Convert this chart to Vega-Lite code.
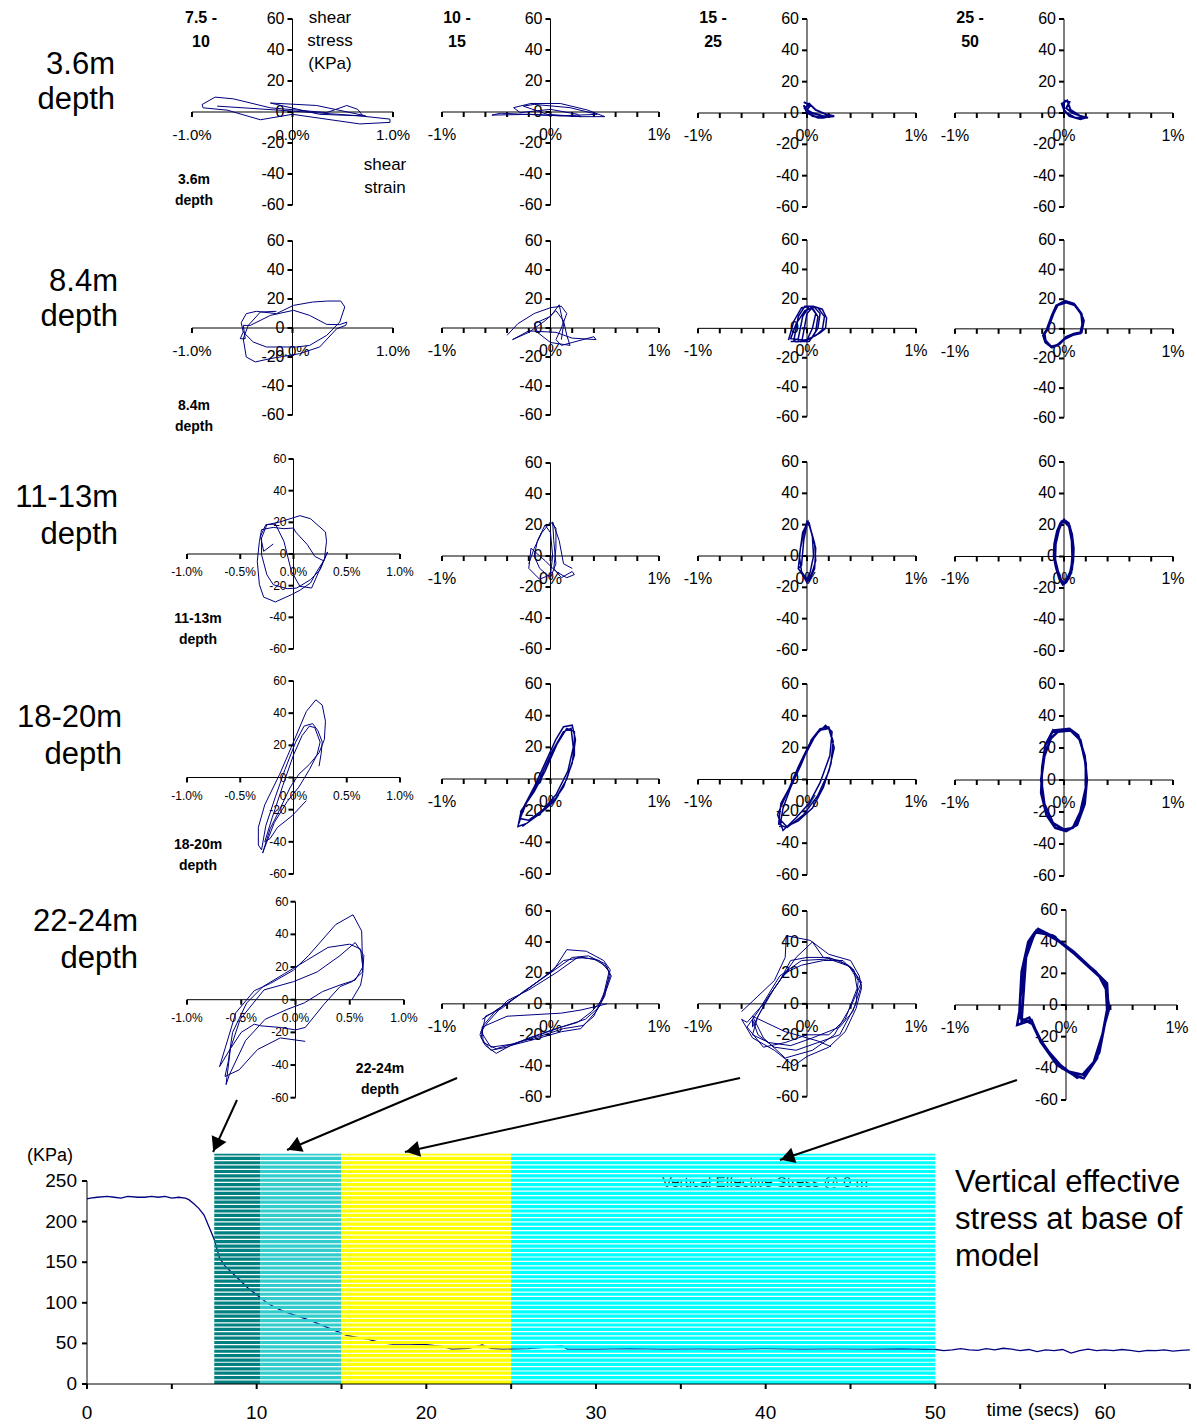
{
"$schema":"https://vega.github.io/schema/vega-lite/v6.json",
"width":1197,"height":1425,"autosize":{"type":"none"},"padding":0,"background":"white",
"config":{"view":{"stroke":null}},
"resolve":{"scale":{"x":"independent","y":"independent"}},
"datasets":{
"axX":[{"x":-1,"x2":1,"y":0}],
"axY":[{"x":0,"y":-60,"y2":60}],
"ytk":[{"x":0,"y":-60,"l":"-60"},{"x":0,"y":-40,"l":"-40"},{"x":0,"y":-20,"l":"-20"},{"x":0,"y":0,"l":"0"},{"x":0,"y":20,"l":"20"},{"x":0,"y":40,"l":"40"},{"x":0,"y":60,"l":"60"}],
"xtA":[{"x":-1,"y":0},{"x":-0.8,"y":0},{"x":-0.6,"y":0},{"x":-0.4,"y":0},{"x":-0.2,"y":0},{"x":0,"y":0},{"x":0.2,"y":0},{"x":0.4,"y":0},{"x":0.6,"y":0},{"x":0.8,"y":0},{"x":1,"y":0}],
"xtB":[{"x":-1,"y":0},{"x":0,"y":0},{"x":1,"y":0}],
"xtC":[{"x":-1,"y":0},{"x":-0.5,"y":0},{"x":0,"y":0},{"x":0.5,"y":0},{"x":1,"y":0}],
"xlA":[{"x":-1,"y":0,"l":"-1%"},{"x":0,"y":0,"l":"0%"},{"x":1,"y":0,"l":"1%"}],
"xlB":[{"x":-1,"y":0,"l":"-1.0%"},{"x":0,"y":0,"l":"0.0%"},{"x":1,"y":0,"l":"1.0%"}],
"xlC":[{"x":-1,"y":0,"l":"-1.0%"},{"x":-0.5,"y":0,"l":"-0.5%"},{"x":0,"y":0,"l":"0.0%"},{"x":0.5,"y":0,"l":"0.5%"},{"x":1,"y":0,"l":"1.0%"}],
"L11":[{"x":-0.75,"y":3.8},{"x":0,"y":0.6},{"x":0.67,"y":-2.5},{"x":0.97,"y":-4.6},{"x":0.97,"y":-6.7},{"x":0.67,"y":-7.7},{"x":0,"y":-1.5},{"x":-0.32,"y":-5},{"x":-0.65,"y":1.2},{"x":-0.89,"y":2.7},{"x":-0.9,"y":4.8},{"x":-0.77,"y":9.6},{"x":-0.59,"y":8.5},{"x":-0.22,"y":2.7},{"x":0.34,"y":-0.4},{"x":0.54,"y":4.2},{"x":0.65,"y":1.7},{"x":0.7,"y":-2.5},{"x":0.27,"y":-1.5},{"x":-0.22,"y":5.8},{"x":0.24,"y":4.2},{"x":0.73,"y":-2.5}],
"L12":[{"x":-0.54,"y":-2},{"x":-0.18,"y":-1.5},{"x":0.28,"y":-3},{"x":0.5,"y":-3},{"x":0.34,"y":1.3},{"x":0.09,"y":5.5},{"x":-0.18,"y":5.5},{"x":-0.34,"y":2.8},{"x":-0.28,"y":-0.4},{"x":0,"y":1.7},{"x":0.25,"y":-1.5},{"x":0.28,"y":-3},{"x":-0.03,"y":-1.5},{"x":-0.25,"y":3.8},{"x":-0.15,"y":4.9},{"x":0.18,"y":2.8},{"x":0.43,"y":-1.5},{"x":0.09,"y":-2.5},{"x":-0.46,"y":-0.8},{"x":-0.54,"y":-2}],
"L13":[{"x":-0.03,"y":7},{"x":0.03,"y":5},{"x":0,"y":2},{"x":0.05,"y":0},{"x":0.15,"y":-2},{"x":0.22,"y":-2},{"x":0.15,"y":-3},{"x":0.05,"y":-2},{"x":-0.02,"y":3},{"x":0.02,"y":6},{"x":0.08,"y":2},{"x":0.18,"y":-1},{"x":0.25,"y":-2},{"x":0.1,"y":-3},{"x":0,"y":0},{"x":-0.03,"y":5}],
"L14":[{"x":0,"y":8},{"x":0.05,"y":7},{"x":0.02,"y":3},{"x":0.08,"y":0},{"x":0.2,"y":-3},{"x":0.15,"y":-4},{"x":0.05,"y":-2},{"x":0,"y":2},{"x":-0.02,"y":6},{"x":0.03,"y":8},{"x":0.06,"y":2},{"x":0.15,"y":-2},{"x":0.22,"y":-3},{"x":0.1,"y":-3},{"x":0,"y":1},{"x":0,"y":7}],
"L21":[{"x":-0.49,"y":-2.8},{"x":-0.51,"y":3.7},{"x":-0.46,"y":9.9},{"x":-0.36,"y":11.5},{"x":-0.16,"y":9.9},{"x":0.01,"y":15.6},{"x":0.2,"y":17.9},{"x":0.35,"y":18.6},{"x":0.48,"y":18.6},{"x":0.52,"y":14.5},{"x":0.47,"y":4.1},{"x":0.34,"y":-5.1},{"x":0.17,"y":-12},{"x":0.04,"y":-13.1},{"x":-0.26,"y":-13.1},{"x":-0.39,"y":-9.7},{"x":-0.49,"y":-2.8},{"x":-0.52,"y":-7.4},{"x":-0.47,"y":-7.4},{"x":-0.49,"y":1.8},{"x":-0.42,"y":1.8},{"x":-0.22,"y":8.7},{"x":0.01,"y":12.2},{"x":0.17,"y":8.7},{"x":0.34,"y":2.5},{"x":0.47,"y":2.3},{"x":0.54,"y":4.1},{"x":0.53,"y":1.8},{"x":0.44,"y":-0.5},{"x":0.27,"y":-13.1},{"x":0.07,"y":-17.7},{"x":-0.22,"y":-21.1},{"x":-0.37,"y":-23.4},{"x":-0.46,"y":-20},{"x":-0.49,"y":-7.4},{"x":-0.44,"y":1.8},{"x":-0.32,"y":11},{"x":-0.16,"y":11.5}],
"L22":[{"x":-0.4,"y":-5},{"x":-0.3,"y":3},{"x":-0.15,"y":10},{"x":0,"y":14},{"x":0.1,"y":15},{"x":0.15,"y":10},{"x":0.1,"y":0},{"x":0.05,"y":-8},{"x":0.1,"y":-12},{"x":0.2,"y":-10},{"x":0.4,"y":-6},{"x":0.42,"y":-8},{"x":0.2,"y":-7},{"x":0.05,"y":-3},{"x":-0.2,"y":-2},{"x":-0.35,"y":-8},{"x":-0.2,"y":-3},{"x":-0.05,"y":5},{"x":0.05,"y":12},{"x":0.12,"y":5},{"x":0.15,"y":-5},{"x":0.18,"y":-12},{"x":0,"y":-10},{"x":-0.12,"y":-3},{"x":-0.15,"y":3},{"x":0,"y":8},{"x":0.08,"y":16},{"x":0.12,"y":2},{"x":0.1,"y":-8}],
"L23":[{"x":-0.17,"y":-8},{"x":-0.12,"y":5},{"x":-0.05,"y":14},{"x":0.03,"y":15},{"x":0.08,"y":10},{"x":0.05,"y":0},{"x":0,"y":-8},{"x":-0.1,"y":-9},{"x":-0.12,"y":-8},{"x":-0.08,"y":8},{"x":-0.02,"y":15},{"x":0.06,"y":15},{"x":0.12,"y":10},{"x":0.1,"y":0},{"x":0.04,"y":-7},{"x":-0.08,"y":-9},{"x":-0.08,"y":-7},{"x":-0.04,"y":8},{"x":0.02,"y":15},{"x":0.1,"y":14},{"x":0.16,"y":8},{"x":0.14,"y":-1},{"x":0.08,"y":-5},{"x":-0.05,"y":-9},{"x":-0.04,"y":-6},{"x":0,"y":10},{"x":0.06,"y":15},{"x":0.14,"y":13},{"x":0.18,"y":7},{"x":0.17,"y":0},{"x":0.12,"y":-3},{"x":0,"y":-8},{"x":-0.15,"y":-7},{"x":-0.1,"y":3},{"x":-0.02,"y":12},{"x":0.05,"y":14},{"x":0.1,"y":8},{"x":0.08,"y":-2},{"x":0.02,"y":-9},{"x":-0.15,"y":-9}],
"L24":[{"x":-0.16,"y":-1.1},{"x":-0.11,"y":9},{"x":-0.07,"y":15.7},{"x":0.01,"y":18.7},{"x":0.09,"y":16.9},{"x":0.15,"y":11.2},{"x":0.18,"y":5.6},{"x":0.16,"y":-2.2},{"x":0.09,"y":-3.4},{"x":0.02,"y":-5.6},{"x":-0.04,"y":-10.1},{"x":-0.11,"y":-12.4},{"x":-0.17,"y":-9},{"x":-0.19,"y":-4.5},{"x":-0.15,"y":0},{"x":-0.1,"y":10},{"x":-0.06,"y":16},{"x":0.02,"y":18},{"x":0.1,"y":16},{"x":0.16,"y":10},{"x":0.17,"y":3},{"x":0.15,"y":-3},{"x":0.08,"y":-4},{"x":0,"y":-7},{"x":-0.06,"y":-11},{"x":-0.12,"y":-12},{"x":-0.17,"y":-8},{"x":-0.18,"y":-3},{"x":-0.15,"y":0}],
"L31":[{"x":-0.19,"y":6.3},{"x":-0.28,"y":1.7},{"x":-0.31,"y":11.2},{"x":-0.26,"y":18.5},{"x":-0.17,"y":18.9},{"x":-0.09,"y":8},{"x":-0.02,"y":-10.9},{"x":0.06,"y":-20.4},{"x":0.17,"y":-21.5},{"x":0.28,"y":-4.6},{"x":0.32,"y":1.3},{"x":0.25,"y":-9.9},{"x":0.16,"y":-16.2},{"x":0.03,"y":-21.5},{"x":-0.06,"y":-21.9},{"x":-0.19,"y":-19.4},{"x":-0.25,"y":-13.1},{"x":-0.3,"y":-0.4},{"x":-0.3,"y":10.1},{"x":-0.25,"y":18.5},{"x":-0.13,"y":20.2},{"x":0.06,"y":24.2},{"x":0.16,"y":22.3},{"x":0.3,"y":13.9},{"x":0.31,"y":8},{"x":0.29,"y":-3.6},{"x":0.22,"y":-10.9},{"x":0.16,"y":-18.3},{"x":0.06,"y":-22.9},{"x":-0.02,"y":-25.7},{"x":-0.17,"y":-30.3},{"x":-0.28,"y":-27.2},{"x":-0.32,"y":-19.4},{"x":-0.34,"y":-4.6},{"x":-0.32,"y":8},{"x":-0.3,"y":15.4},{"x":-0.19,"y":16.8},{"x":-0.09,"y":16},{"x":0,"y":16.4},{"x":0.02,"y":13.9},{"x":0.13,"y":5.9},{"x":0.2,"y":-1.5},{"x":0.28,"y":-4.2}],
"L32":[{"x":-0.2,"y":-5},{"x":-0.15,"y":5},{"x":-0.08,"y":15},{"x":0,"y":22},{"x":0.05,"y":18},{"x":0.05,"y":5},{"x":0.03,"y":-8},{"x":0.1,"y":-14},{"x":0.2,"y":-10},{"x":0.22,"y":-12},{"x":0.15,"y":-14},{"x":0.05,"y":-10},{"x":-0.05,"y":-3},{"x":-0.18,"y":5},{"x":-0.2,"y":-8},{"x":-0.1,"y":-15},{"x":0,"y":-12},{"x":0.02,"y":0},{"x":0,"y":15},{"x":-0.05,"y":20},{"x":-0.12,"y":10},{"x":-0.15,"y":0},{"x":-0.1,"y":-8},{"x":0,"y":-14},{"x":0.05,"y":-5},{"x":0.03,"y":10},{"x":0.02,"y":22},{"x":0.08,"y":10},{"x":0.12,"y":-5},{"x":0.2,"y":-8}],
"L33":[{"x":-0.08,"y":-8},{"x":-0.06,"y":5},{"x":-0.03,"y":15},{"x":0,"y":22},{"x":0.03,"y":18},{"x":0.07,"y":8},{"x":0.08,"y":-3},{"x":0.05,"y":-10},{"x":0,"y":-17},{"x":-0.04,"y":-12},{"x":-0.08,"y":-8},{"x":-0.05,"y":-6},{"x":-0.03,"y":10},{"x":0,"y":20},{"x":0.02,"y":21},{"x":0.05,"y":12},{"x":0.06,"y":0},{"x":0.03,"y":-10},{"x":0,"y":-15},{"x":-0.05,"y":-10},{"x":-0.07,"y":0},{"x":-0.04,"y":15},{"x":0.01,"y":22},{"x":0.04,"y":15},{"x":0.08,"y":5},{"x":0.07,"y":-8},{"x":0.02,"y":-16},{"x":-0.06,"y":-10}],
"L34":[{"x":0,"y":23},{"x":0.04,"y":21},{"x":0.07,"y":14},{"x":0.085,"y":5},{"x":0.08,"y":-3},{"x":0.06,"y":-10},{"x":0.02,"y":-16},{"x":-0.01,"y":-17.5},{"x":-0.04,"y":-14},{"x":-0.07,"y":-7},{"x":-0.09,"y":0},{"x":-0.085,"y":8},{"x":-0.06,"y":16},{"x":-0.03,"y":21},{"x":0,"y":23},{"x":0.01,"y":22},{"x":0.05,"y":19},{"x":0.075,"y":10},{"x":0.08,"y":0},{"x":0.07,"y":-8},{"x":0.04,"y":-14},{"x":0,"y":-17},{"x":-0.03,"y":-15},{"x":-0.06,"y":-9},{"x":-0.085,"y":-2},{"x":-0.08,"y":8},{"x":-0.05,"y":17},{"x":-0.02,"y":22},{"x":0.01,"y":22}],
"L41":[{"x":0.24,"y":7},{"x":0.26,"y":15},{"x":0.27,"y":22},{"x":0.23,"y":29},{"x":0.18,"y":33.5},{"x":0.1,"y":32},{"x":0.02,"y":22},{"x":-0.08,"y":5},{"x":-0.17,"y":-12},{"x":-0.26,"y":-30},{"x":-0.3,"y":-45},{"x":-0.33,"y":-42},{"x":-0.33,"y":-31},{"x":-0.27,"y":-17},{"x":-0.13,"y":2},{"x":-0.01,"y":20.5},{"x":0.12,"y":41},{"x":0.21,"y":48.3},{"x":0.27,"y":45},{"x":0.3,"y":35},{"x":0.29,"y":23.6},{"x":0.24,"y":15.4},{"x":0.15,"y":8.2},{"x":0.05,"y":2},{"x":-0.03,"y":-6},{"x":-0.13,"y":-20},{"x":-0.22,"y":-32},{"x":-0.29,"y":-47},{"x":-0.25,"y":-40},{"x":-0.18,"y":-28},{"x":-0.06,"y":-15},{"x":0.05,"y":-6},{"x":0.15,"y":5},{"x":0.22,"y":14},{"x":0.25,"y":22},{"x":0.2,"y":31},{"x":0.15,"y":32},{"x":0.08,"y":26},{"x":0,"y":14},{"x":-0.1,"y":-5},{"x":-0.2,"y":-25},{"x":-0.27,"y":-40},{"x":-0.22,"y":-38},{"x":-0.15,"y":-31},{"x":-0.01,"y":-23.6},{"x":0.12,"y":-14.4}],
"L42":[{"x":-0.29,"y":-28},{"x":-0.25,"y":-18},{"x":-0.15,"y":-5},{"x":-0.05,"y":10},{"x":0.05,"y":25},{"x":0.12,"y":33},{"x":0.2,"y":34},{"x":0.23,"y":25},{"x":0.2,"y":10},{"x":0.12,"y":-5},{"x":0.02,"y":-15},{"x":-0.1,"y":-22},{"x":-0.22,"y":-28},{"x":-0.3,"y":-30},{"x":-0.27,"y":-20},{"x":-0.15,"y":-8},{"x":-0.05,"y":5},{"x":0.06,"y":22},{"x":0.15,"y":32},{"x":0.22,"y":30},{"x":0.22,"y":15},{"x":0.15,"y":0},{"x":0.05,"y":-12},{"x":-0.08,"y":-20},{"x":-0.2,"y":-26},{"x":-0.28,"y":-25},{"x":-0.22,"y":-15},{"x":-0.1,"y":0},{"x":0.02,"y":18},{"x":0.12,"y":30},{"x":0.19,"y":32},{"x":0.21,"y":20},{"x":0.16,"y":5},{"x":0.05,"y":-10},{"x":-0.1,"y":-22},{"x":-0.26,"y":-30}],
"L43":[{"x":-0.25,"y":-30},{"x":-0.22,"y":-18},{"x":-0.15,"y":-5},{"x":-0.05,"y":10},{"x":0.04,"y":25},{"x":0.12,"y":32},{"x":0.2,"y":33},{"x":0.24,"y":24},{"x":0.22,"y":10},{"x":0.15,"y":-5},{"x":0.05,"y":-18},{"x":-0.08,"y":-26},{"x":-0.2,"y":-30},{"x":-0.26,"y":-28},{"x":-0.24,"y":-15},{"x":-0.12,"y":0},{"x":-0.02,"y":15},{"x":0.08,"y":28},{"x":0.17,"y":34},{"x":0.23,"y":30},{"x":0.21,"y":15},{"x":0.12,"y":-2},{"x":0.02,"y":-15},{"x":-0.1,"y":-24},{"x":-0.22,"y":-32},{"x":-0.27,"y":-22},{"x":-0.18,"y":-8},{"x":-0.08,"y":8},{"x":0.02,"y":22},{"x":0.12,"y":31},{"x":0.2,"y":32},{"x":0.25,"y":20},{"x":0.2,"y":5},{"x":0.1,"y":-10},{"x":-0.03,"y":-22},{"x":-0.18,"y":-30},{"x":-0.25,"y":-25}],
"L44":[{"x":-0.1,"y":31},{"x":0.05,"y":32},{"x":0.13,"y":28},{"x":0.19,"y":15},{"x":0.21,"y":0},{"x":0.19,"y":-15},{"x":0.12,"y":-28},{"x":0.02,"y":-32},{"x":-0.08,"y":-30},{"x":-0.16,"y":-22},{"x":-0.21,"y":-8},{"x":-0.2,"y":8},{"x":-0.17,"y":22},{"x":-0.1,"y":31},{"x":-0.08,"y":30},{"x":0.06,"y":31},{"x":0.15,"y":25},{"x":0.2,"y":10},{"x":0.2,"y":-5},{"x":0.15,"y":-20},{"x":0.08,"y":-30},{"x":0,"y":-31},{"x":-0.1,"y":-27},{"x":-0.18,"y":-15},{"x":-0.21,"y":0},{"x":-0.18,"y":15},{"x":-0.12,"y":26},{"x":-0.06,"y":30}],
"L51":[{"x":0.52,"y":0},{"x":0.6,"y":9},{"x":0.62,"y":16},{"x":0.61,"y":42},{"x":0.53,"y":52},{"x":0.37,"y":46},{"x":0.12,"y":27},{"x":-0.02,"y":18},{"x":-0.23,"y":10},{"x":-0.38,"y":5.5},{"x":-0.55,"y":-8},{"x":-0.7,"y":-41},{"x":-0.6,"y":-30},{"x":-0.5,"y":-20},{"x":-0.38,"y":-15},{"x":-0.32,"y":-16},{"x":-0.14,"y":-17},{"x":0,"y":-18.5},{"x":0.09,"y":-17},{"x":0.26,"y":-3},{"x":0.41,"y":8},{"x":0.52,"y":11},{"x":0.62,"y":17},{"x":0.63,"y":27},{"x":0.55,"y":35},{"x":0.41,"y":27},{"x":0.2,"y":17},{"x":-0.02,"y":11},{"x":-0.29,"y":6},{"x":-0.51,"y":-12},{"x":-0.6,"y":-30},{"x":-0.64,"y":-52},{"x":-0.61,"y":-46},{"x":-0.46,"y":-25},{"x":-0.28,"y":-12},{"x":-0.08,"y":-6},{"x":0.08,"y":-2},{"x":0.25,"y":5},{"x":0.41,"y":9},{"x":0.55,"y":12},{"x":0.62,"y":20},{"x":0.6,"y":31},{"x":0.5,"y":34},{"x":0.3,"y":32},{"x":0.1,"y":24},{"x":-0.1,"y":16},{"x":-0.3,"y":8},{"x":-0.45,"y":-2},{"x":-0.58,"y":-20},{"x":-0.62,"y":-38},{"x":-0.65,"y":-47},{"x":-0.52,"y":-43},{"x":-0.35,"y":-30.5},{"x":-0.14,"y":-23.4},{"x":0.09,"y":-25.5}],
"L52":[{"x":-0.63,"y":-10},{"x":-0.43,"y":-1},{"x":-0.2,"y":10},{"x":0.03,"y":22},{"x":0.15,"y":35},{"x":0.33,"y":34},{"x":0.49,"y":28},{"x":0.55,"y":22},{"x":0.5,"y":5},{"x":0.42,"y":-5},{"x":0.28,"y":-16},{"x":0.1,"y":-18},{"x":-0.15,"y":-23},{"x":-0.37,"y":-27},{"x":-0.5,"y":-32},{"x":-0.6,"y":-27},{"x":-0.65,"y":-20},{"x":-0.62,"y":-14},{"x":-0.5,"y":-4},{"x":-0.3,"y":5},{"x":-0.05,"y":18},{"x":0.12,"y":28},{"x":0.3,"y":30},{"x":0.45,"y":28},{"x":0.54,"y":21},{"x":0.48,"y":3},{"x":0.38,"y":-5},{"x":0.25,"y":-12},{"x":0.05,"y":-16},{"x":-0.2,"y":-22},{"x":-0.4,"y":-28},{"x":-0.55,"y":-30},{"x":-0.64,"y":-22},{"x":-0.6,"y":-8},{"x":-0.45,"y":-3},{"x":-0.25,"y":8},{"x":0,"y":20},{"x":0.2,"y":30},{"x":0.35,"y":31},{"x":0.5,"y":26},{"x":0.56,"y":18},{"x":0.52,"y":10},{"x":0.45,"y":-2},{"x":0.32,"y":-10},{"x":0.1,"y":-15},{"x":-0.1,"y":-20},{"x":-0.35,"y":-26},{"x":-0.55,"y":-28},{"x":-0.64,"y":-18},{"x":-0.58,"y":-12},{"x":-0.4,"y":2},{"x":-0.2,"y":9},{"x":0.05,"y":20},{"x":0.25,"y":30},{"x":0.4,"y":29},{"x":0.52,"y":24},{"x":0.55,"y":18},{"x":0.5,"y":8},{"x":0.4,"y":-8},{"x":0.3,"y":-14},{"x":0.12,"y":-16},{"x":-0.1,"y":-21},{"x":-0.3,"y":-25},{"x":-0.5,"y":-29},{"x":-0.62,"y":-25},{"x":-0.63,"y":-15},{"x":-0.4,"y":-8},{"x":0.1,"y":-6},{"x":0.28,"y":-4},{"x":0.52,"y":0}],
"L53":[{"x":-0.6,"y":-5},{"x":-0.45,"y":5},{"x":-0.3,"y":15},{"x":-0.2,"y":30},{"x":-0.19,"y":44},{"x":0.03,"y":41},{"x":0.2,"y":32},{"x":0.4,"y":28},{"x":0.48,"y":18},{"x":0.5,"y":10},{"x":0.45,"y":-3},{"x":0.35,"y":-18},{"x":0.2,"y":-28},{"x":0,"y":-34},{"x":-0.12,"y":-40},{"x":-0.3,"y":-30},{"x":-0.5,"y":-22},{"x":-0.6,"y":-10},{"x":-0.55,"y":-12},{"x":-0.4,"y":0},{"x":-0.25,"y":15},{"x":-0.15,"y":28},{"x":0,"y":30},{"x":0.2,"y":30},{"x":0.38,"y":25},{"x":0.47,"y":15},{"x":0.45,"y":0},{"x":0.3,"y":-20},{"x":0.1,"y":-25},{"x":-0.1,"y":-30},{"x":-0.3,"y":-28},{"x":-0.45,"y":-20},{"x":-0.5,"y":-10},{"x":-0.5,"y":-15},{"x":-0.35,"y":5},{"x":-0.2,"y":20},{"x":-0.05,"y":25},{"x":0.15,"y":28},{"x":0.33,"y":28},{"x":0.44,"y":20},{"x":0.5,"y":12},{"x":0.42,"y":-5},{"x":0.3,"y":-15},{"x":0.05,"y":-22},{"x":-0.15,"y":-27},{"x":-0.35,"y":-25},{"x":-0.5,"y":-20},{"x":-0.45,"y":-8},{"x":-0.3,"y":10},{"x":-0.1,"y":30},{"x":0.05,"y":40},{"x":0.15,"y":30},{"x":0.3,"y":28},{"x":0.43,"y":22},{"x":0.46,"y":10},{"x":0.35,"y":-10},{"x":0.2,"y":-20},{"x":0,"y":-20},{"x":-0.2,"y":-25},{"x":-0.4,"y":-28},{"x":-0.55,"y":-15},{"x":-0.45,"y":-5},{"x":-0.25,"y":18},{"x":-0.05,"y":28},{"x":0.2,"y":29},{"x":0.4,"y":24},{"x":0.5,"y":14},{"x":0.4,"y":-2},{"x":0.25,"y":-20},{"x":0.05,"y":-30},{"x":-0.2,"y":-35},{"x":-0.4,"y":-22},{"x":-0.5,"y":-8},{"x":-0.2,"y":-18},{"x":0.1,"y":-24},{"x":0.22,"y":-27.7}],
"L54":[{"x":-0.26,"y":48.4},{"x":-0.11,"y":43},{"x":0.07,"y":33.7},{"x":0.28,"y":20},{"x":0.37,"y":13.7},{"x":0.38,"y":0},{"x":0.34,"y":-14.7},{"x":0.28,"y":-33.7},{"x":0.16,"y":-46.3},{"x":0.07,"y":-44.2},{"x":-0.08,"y":-37.9},{"x":-0.23,"y":-23.2},{"x":-0.31,"y":-9.5},{"x":-0.44,"y":-12.6},{"x":-0.42,"y":-4.2},{"x":-0.4,"y":21},{"x":-0.34,"y":40},{"x":-0.28,"y":46},{"x":-0.12,"y":44},{"x":0.08,"y":32},{"x":0.3,"y":18},{"x":0.36,"y":10},{"x":0.37,"y":-3},{"x":0.33,"y":-18},{"x":0.25,"y":-36},{"x":0.15,"y":-44},{"x":0.02,"y":-42},{"x":-0.1,"y":-35},{"x":-0.25,"y":-20},{"x":-0.33,"y":-8},{"x":-0.4,"y":-10},{"x":-0.38,"y":10},{"x":-0.36,"y":30},{"x":-0.3,"y":44},{"x":-0.24,"y":47},{"x":-0.08,"y":41},{"x":0.1,"y":31},{"x":0.27,"y":21},{"x":0.36,"y":12},{"x":0.39,"y":-2},{"x":0.35,"y":-12},{"x":0.3,"y":-30},{"x":0.2,"y":-42},{"x":0.1,"y":-46},{"x":-0.05,"y":-38},{"x":-0.2,"y":-26},{"x":-0.3,"y":-12},{"x":-0.42,"y":-8},{"x":-0.41,"y":5},{"x":-0.37,"y":28},{"x":-0.3,"y":42},{"x":-0.26,"y":48}],
"ts":[{"x":0,"y":228},{"x":0.2,"y":229},{"x":0.6,"y":230},{"x":1.2,"y":231},{"x":1.6,"y":230},{"x":2.0,"y":229},{"x":2.4,"y":231},{"x":3.0,"y":230},{"x":3.4,"y":230},{"x":3.8,"y":231},{"x":4.2,"y":230},{"x":4.6,"y":231},{"x":5.0,"y":229},{"x":5.4,"y":230},{"x":5.8,"y":229},{"x":6.0,"y":227},{"x":6.3,"y":222},{"x":6.6,"y":216},{"x":6.9,"y":208},{"x":7.1,"y":198},{"x":7.3,"y":188},{"x":7.5,"y":178},{"x":7.8,"y":156},{"x":8.1,"y":146},{"x":8.5,"y":138},{"x":9.0,"y":128},{"x":9.5,"y":118},{"x":10.0,"y":110},{"x":10.6,"y":100},{"x":11.2,"y":93},{"x":11.8,"y":88},{"x":12.5,"y":83},{"x":13.2,"y":78},{"x":14.0,"y":71},{"x":14.6,"y":66},{"x":15.3,"y":60},{"x":16.0,"y":57},{"x":16.6,"y":55},{"x":17.3,"y":51},{"x":18.0,"y":49},{"x":19.0,"y":49},{"x":20.0,"y":48.5},{"x":21.0,"y":46},{"x":21.5,"y":43},{"x":22.5,"y":44},{"x":23.3,"y":48},{"x":23.8,"y":44},{"x":24.5,"y":43},{"x":26,"y":43.5},{"x":28,"y":47},{"x":28.3,"y":43},{"x":30,"y":43},{"x":32,"y":43.5},{"x":34,"y":43},{"x":36,"y":43.3},{"x":38,"y":43},{"x":40,"y":43.5},{"x":42,"y":43},{"x":44,"y":43.2},{"x":46,"y":43},{"x":48,"y":43.4},{"x":50,"y":42.5},{"x":50.5,"y":41},{"x":51,"y":42},{"x":51.5,"y":43.5},{"x":52,"y":42},{"x":52.5,"y":41.5},{"x":53,"y":43.5},{"x":53.5,"y":42},{"x":54,"y":44},{"x":54.5,"y":43},{"x":55,"y":41},{"x":55.5,"y":42.5},{"x":56,"y":40},{"x":56.5,"y":42},{"x":57,"y":41},{"x":57.5,"y":42.5},{"x":58,"y":38},{"x":58.5,"y":41},{"x":59,"y":43},{"x":59.5,"y":41},{"x":60,"y":42},{"x":60.5,"y":41},{"x":61,"y":42.5},{"x":61.5,"y":41.5},{"x":62,"y":40},{"x":62.5,"y":41.5},{"x":63,"y":41},{"x":63.5,"y":42},{"x":64,"y":40.5},{"x":64.5,"y":41.5},{"x":65,"y":42}],
"strips":[{"y":0,"y2":4.45},{"y":5.95,"y2":9.85},{"y":11.35,"y2":15.25},{"y":16.75,"y2":20.65},{"y":22.15,"y2":26.05},{"y":27.55,"y2":31.45},{"y":32.95,"y2":36.85},{"y":38.35,"y2":42.25},{"y":43.75,"y2":47.65},{"y":49.15,"y2":53.05},{"y":54.55,"y2":58.45},{"y":59.95,"y2":63.85},{"y":65.35,"y2":69.25},{"y":70.75,"y2":74.65},{"y":76.15,"y2":80.05},{"y":81.55,"y2":85.45},{"y":86.95,"y2":90.85},{"y":92.35,"y2":96.25},{"y":97.75,"y2":101.65},{"y":103.15,"y2":107.05},{"y":108.55,"y2":112.45},{"y":113.95,"y2":117.85},{"y":119.35,"y2":123.25},{"y":124.75,"y2":128.65},{"y":130.15,"y2":134.05},{"y":135.55,"y2":139.45},{"y":140.95,"y2":144.85},{"y":146.35,"y2":150.25},{"y":151.75,"y2":155.65},{"y":157.15,"y2":161.05},{"y":162.55,"y2":166.45},{"y":167.95,"y2":171.85},{"y":173.35,"y2":177.25},{"y":178.75,"y2":182.65},{"y":184.15,"y2":188.05},{"y":189.55,"y2":193.45},{"y":194.95,"y2":198.85},{"y":200.35,"y2":204.25},{"y":205.75,"y2":209.65},{"y":211.15,"y2":215.05},{"y":216.55,"y2":220.45},{"y":221.95,"y2":225.85},{"y":227.35,"y2":231.25},{"y":232.75,"y2":236.65},{"y":238.15,"y2":242.05},{"y":243.55,"y2":247.45},{"y":248.95,"y2":252.85},{"y":254.35,"y2":258.25},{"y":259.75,"y2":263.65},{"y":265.15,"y2":269.05},{"y":270.55,"y2":274.45},{"y":275.95,"y2":279.85},{"y":281.35,"y2":283.5}],
"arrows":[{"x":8.84,"y":349.8,"x2":7.43,"y2":285.7},{"x":21.81,"y":376.8,"x2":11.79,"y2":288.2},{"x":38.49,"y":376.8,"x2":18.74,"y2":285.7},{"x":54.81,"y":374.4,"x2":40.84,"y2":275.9}],
"heads":[{"x":7.67,"y":296.9,"a":204.8},{"x":12.33,"y":293.0,"a":247},{"x":19.32,"y":288.4,"a":257.5},{"x":41.4,"y":279.8,"a":251.3}],
"bxt":[{"x":0,"y":0},{"x":5,"y":0},{"x":10,"y":0},{"x":15,"y":0},{"x":20,"y":0},{"x":25,"y":0},{"x":30,"y":0},{"x":35,"y":0},{"x":40,"y":0},{"x":45,"y":0},{"x":50,"y":0},{"x":55,"y":0},{"x":60,"y":0},{"x":65,"y":0}],
"bxl":[{"x":0,"y":0,"l":"0"},{"x":10,"y":0,"l":"10"},{"x":20,"y":0,"l":"20"},{"x":30,"y":0,"l":"30"},{"x":40,"y":0,"l":"40"},{"x":50,"y":0,"l":"50"},{"x":60,"y":0,"l":"60"}],
"byl":[{"x":0,"y":0,"l":"0"},{"x":0,"y":50,"l":"50"},{"x":0,"y":100,"l":"100"},{"x":0,"y":150,"l":"150"},{"x":0,"y":200,"l":"200"},{"x":0,"y":250,"l":"250"}]
},
"layer":[
{"encoding":{"x":{"field":"x","type":"quantitative","scale":{"domain":[-2.91045,9.0],"nice":false,"zero":false},"axis":null},"y":{"field":"y","type":"quantitative","scale":{"domain":[-847.097,72.2581],"nice":false,"zero":false},"axis":null}},"layer":[
{"data":{"name":"axX"},"mark":{"type":"rule","color":"#000"},"encoding":{"x2":{"field":"x2"}}},
{"data":{"name":"axY"},"mark":{"type":"rule","color":"#000"},"encoding":{"y2":{"field":"y2"}}},
{"data":{"name":"ytk"},"mark":{"type":"point","shape":"stroke","size":25,"color":"#000","filled":false,"opacity":1,"xOffset":-2.5}},
{"data":{"name":"xtB"},"mark":{"type":"point","shape":"stroke","size":25,"color":"#000","filled":false,"opacity":1,"angle":90,"yOffset":2.5}},
{"data":{"name":"ytk"},"mark":{"type":"text","font":"Liberation Sans","fontSize":16,"align":"right","baseline":"middle","dx":-8,"color":"#000"},"encoding":{"text":{"field":"l"}}},
{"data":{"name":"xlB"},"mark":{"type":"text","font":"Liberation Sans","fontSize":15,"align":"center","baseline":"middle","dy":23,"color":"#000"},"encoding":{"text":{"field":"l"}}},
{"data":{"name":"L11"},"transform":[{"window":[{"op":"row_number","as":"i"}]}],"mark":{"type":"line","color":"#000080","strokeWidth":1},"encoding":{"order":{"field":"i","type":"quantitative"}}},
{"data":{"values":[{"x":-0.9104,"y":60.65,"l":"7.5 -"},{"x":-0.9104,"y":45.16,"l":"10"}]},"mark":{"type":"text","font":"Liberation Sans","fontSize":16,"fontWeight":"bold","align":"center","baseline":"middle","color":"#000"},"encoding":{"text":{"field":"l"}}},
{"data":{"values":[{"x":0.373,"y":60.65,"l":"shear"},{"x":0.373,"y":45.81,"l":"stress"},{"x":0.373,"y":30.97,"l":"(KPa)"},{"x":0.9204,"y":-34.19,"l":"shear"},{"x":0.9204,"y":-49.03,"l":"strain"}]},"mark":{"type":"text","font":"Liberation Sans","fontSize":17,"align":"center","baseline":"middle","color":"#000"},"encoding":{"text":{"field":"l"}}},
{"data":{"values":[{"x":-0.98,"y":-43.87,"l":"3.6m"},{"x":-0.98,"y":-57.42,"l":"depth"}]},"mark":{"type":"text","font":"Liberation Sans","fontSize":14,"fontWeight":"bold","align":"center","baseline":"middle","color":"#000"},"encoding":{"text":{"field":"l"}}},
{"data":{"values":[{"x":-1.766,"y":30.32,"l":"3.6m"},{"x":-1.766,"y":7.74,"l":"depth"}]},"mark":{"type":"text","font":"Liberation Sans","fontSize":31,"align":"right","baseline":"middle","color":"#000"},"encoding":{"text":{"field":"l"}}}
]},
{"encoding":{"x":{"field":"x","type":"quantitative","scale":{"domain":[-5.07373,5.95853],"nice":false,"zero":false},"axis":null},"y":{"field":"y","type":"quantitative","scale":{"domain":[-847.097,72.2581],"nice":false,"zero":false},"axis":null}},"layer":[
{"data":{"name":"axX"},"mark":{"type":"rule","color":"#000"},"encoding":{"x2":{"field":"x2"}}},
{"data":{"name":"axY"},"mark":{"type":"rule","color":"#000"},"encoding":{"y2":{"field":"y2"}}},
{"data":{"name":"ytk"},"mark":{"type":"point","shape":"stroke","size":25,"color":"#000","filled":false,"opacity":1,"xOffset":-2.5}},
{"data":{"name":"xtA"},"mark":{"type":"point","shape":"stroke","size":25,"color":"#000","filled":false,"opacity":1,"angle":90,"yOffset":2.5}},
{"data":{"name":"ytk"},"mark":{"type":"text","font":"Liberation Sans","fontSize":16,"align":"right","baseline":"middle","dx":-8,"color":"#000"},"encoding":{"text":{"field":"l"}}},
{"data":{"name":"xlA"},"mark":{"type":"text","font":"Liberation Sans","fontSize":16,"align":"center","baseline":"middle","dy":23,"color":"#000"},"encoding":{"text":{"field":"l"}}},
{"data":{"name":"L12"},"transform":[{"window":[{"op":"row_number","as":"i"}]}],"mark":{"type":"line","color":"#000080","strokeWidth":1},"encoding":{"order":{"field":"i","type":"quantitative"}}},
{"data":{"values":[{"x":-0.862,"y":60.65,"l":"10 -"},{"x":-0.862,"y":45.16,"l":"15"}]},"mark":{"type":"text","font":"Liberation Sans","fontSize":16,"fontWeight":"bold","align":"center","baseline":"middle","color":"#000"},"encoding":{"text":{"field":"l"}}}
]},
{"encoding":{"x":{"field":"x","type":"quantitative","scale":{"domain":[-7.40367,3.57798],"nice":false,"zero":false},"axis":null},"y":{"field":"y","type":"quantitative","scale":{"domain":[-837.447,72.1277],"nice":false,"zero":false},"axis":null}},"layer":[
{"data":{"name":"axX"},"mark":{"type":"rule","color":"#000"},"encoding":{"x2":{"field":"x2"}}},
{"data":{"name":"axY"},"mark":{"type":"rule","color":"#000"},"encoding":{"y2":{"field":"y2"}}},
{"data":{"name":"ytk"},"mark":{"type":"point","shape":"stroke","size":25,"color":"#000","filled":false,"opacity":1,"xOffset":-2.5}},
{"data":{"name":"xtA"},"mark":{"type":"point","shape":"stroke","size":25,"color":"#000","filled":false,"opacity":1,"angle":90,"yOffset":2.5}},
{"data":{"name":"ytk"},"mark":{"type":"text","font":"Liberation Sans","fontSize":16,"align":"right","baseline":"middle","dx":-8,"color":"#000"},"encoding":{"text":{"field":"l"}}},
{"data":{"name":"xlA"},"mark":{"type":"text","font":"Liberation Sans","fontSize":16,"align":"center","baseline":"middle","dy":23,"color":"#000"},"encoding":{"text":{"field":"l"}}},
{"data":{"name":"L13"},"transform":[{"window":[{"op":"row_number","as":"i"}]}],"mark":{"type":"line","color":"#000080","strokeWidth":2},"encoding":{"order":{"field":"i","type":"quantitative"}}},
{"data":{"values":[{"x":-0.862,"y":60.64,"l":"15 -"},{"x":-0.862,"y":45.32,"l":"25"}]},"mark":{"type":"text","font":"Liberation Sans","fontSize":16,"fontWeight":"bold","align":"center","baseline":"middle","color":"#000"},"encoding":{"text":{"field":"l"}}}
]},
{"encoding":{"x":{"field":"x","type":"quantitative","scale":{"domain":[-9.76147,1.22018],"nice":false,"zero":false},"axis":null},"y":{"field":"y","type":"quantitative","scale":{"domain":[-837.447,72.1277],"nice":false,"zero":false},"axis":null}},"layer":[
{"data":{"name":"axX"},"mark":{"type":"rule","color":"#000"},"encoding":{"x2":{"field":"x2"}}},
{"data":{"name":"axY"},"mark":{"type":"rule","color":"#000"},"encoding":{"y2":{"field":"y2"}}},
{"data":{"name":"ytk"},"mark":{"type":"point","shape":"stroke","size":25,"color":"#000","filled":false,"opacity":1,"xOffset":-2.5}},
{"data":{"name":"xtA"},"mark":{"type":"point","shape":"stroke","size":25,"color":"#000","filled":false,"opacity":1,"angle":90,"yOffset":2.5}},
{"data":{"name":"ytk"},"mark":{"type":"text","font":"Liberation Sans","fontSize":16,"align":"right","baseline":"middle","dx":-8,"color":"#000"},"encoding":{"text":{"field":"l"}}},
{"data":{"name":"xlA"},"mark":{"type":"text","font":"Liberation Sans","fontSize":16,"align":"center","baseline":"middle","dy":23,"color":"#000"},"encoding":{"text":{"field":"l"}}},
{"data":{"name":"L14"},"transform":[{"window":[{"op":"row_number","as":"i"}]}],"mark":{"type":"line","color":"#000080","strokeWidth":2},"encoding":{"order":{"field":"i","type":"quantitative"}}},
{"data":{"values":[{"x":-0.862,"y":60.64,"l":"25 -"},{"x":-0.862,"y":45.32,"l":"50"}]},"mark":{"type":"text","font":"Liberation Sans","fontSize":16,"fontWeight":"bold","align":"center","baseline":"middle","color":"#000"},"encoding":{"text":{"field":"l"}}}
]},
{"encoding":{"x":{"field":"x","type":"quantitative","scale":{"domain":[-2.91045,9.0],"nice":false,"zero":false},"axis":null},"y":{"field":"y","type":"quantitative","scale":{"domain":[-756.552,226.207],"nice":false,"zero":false},"axis":null}},"layer":[
{"data":{"name":"axX"},"mark":{"type":"rule","color":"#000"},"encoding":{"x2":{"field":"x2"}}},
{"data":{"name":"axY"},"mark":{"type":"rule","color":"#000"},"encoding":{"y2":{"field":"y2"}}},
{"data":{"name":"ytk"},"mark":{"type":"point","shape":"stroke","size":25,"color":"#000","filled":false,"opacity":1,"xOffset":-2.5}},
{"data":{"name":"xtB"},"mark":{"type":"point","shape":"stroke","size":25,"color":"#000","filled":false,"opacity":1,"angle":90,"yOffset":2.5}},
{"data":{"name":"ytk"},"mark":{"type":"text","font":"Liberation Sans","fontSize":16,"align":"right","baseline":"middle","dx":-8,"color":"#000"},"encoding":{"text":{"field":"l"}}},
{"data":{"name":"xlB"},"mark":{"type":"text","font":"Liberation Sans","fontSize":15,"align":"center","baseline":"middle","dy":23,"color":"#000"},"encoding":{"text":{"field":"l"}}},
{"data":{"name":"L21"},"transform":[{"window":[{"op":"row_number","as":"i"}]}],"mark":{"type":"line","color":"#000080","strokeWidth":1},"encoding":{"order":{"field":"i","type":"quantitative"}}},
{"data":{"values":[{"x":-0.98,"y":-53.79,"l":"8.4m"},{"x":-0.98,"y":-68.28,"l":"depth"}]},"mark":{"type":"text","font":"Liberation Sans","fontSize":14,"fontWeight":"bold","align":"center","baseline":"middle","color":"#000"},"encoding":{"text":{"field":"l"}}},
{"data":{"values":[{"x":-1.7363,"y":31.72,"l":"8.4m"},{"x":-1.7363,"y":7.59,"l":"depth"}]},"mark":{"type":"text","font":"Liberation Sans","fontSize":31,"align":"right","baseline":"middle","color":"#000"},"encoding":{"text":{"field":"l"}}}
]},
{"encoding":{"x":{"field":"x","type":"quantitative","scale":{"domain":[-5.07373,5.95853],"nice":false,"zero":false},"axis":null},"y":{"field":"y","type":"quantitative","scale":{"domain":[-756.552,226.207],"nice":false,"zero":false},"axis":null}},"layer":[
{"data":{"name":"axX"},"mark":{"type":"rule","color":"#000"},"encoding":{"x2":{"field":"x2"}}},
{"data":{"name":"axY"},"mark":{"type":"rule","color":"#000"},"encoding":{"y2":{"field":"y2"}}},
{"data":{"name":"ytk"},"mark":{"type":"point","shape":"stroke","size":25,"color":"#000","filled":false,"opacity":1,"xOffset":-2.5}},
{"data":{"name":"xtA"},"mark":{"type":"point","shape":"stroke","size":25,"color":"#000","filled":false,"opacity":1,"angle":90,"yOffset":2.5}},
{"data":{"name":"ytk"},"mark":{"type":"text","font":"Liberation Sans","fontSize":16,"align":"right","baseline":"middle","dx":-8,"color":"#000"},"encoding":{"text":{"field":"l"}}},
{"data":{"name":"xlA"},"mark":{"type":"text","font":"Liberation Sans","fontSize":16,"align":"center","baseline":"middle","dy":23,"color":"#000"},"encoding":{"text":{"field":"l"}}},
{"data":{"name":"L22"},"transform":[{"window":[{"op":"row_number","as":"i"}]}],"mark":{"type":"line","color":"#000080","strokeWidth":1},"encoding":{"order":{"field":"i","type":"quantitative"}}}
]},
{"encoding":{"x":{"field":"x","type":"quantitative","scale":{"domain":[-7.40367,3.57798],"nice":false,"zero":false},"axis":null},"y":{"field":"y","type":"quantitative","scale":{"domain":[-744.754,222.988],"nice":false,"zero":false},"axis":null}},"layer":[
{"data":{"name":"axX"},"mark":{"type":"rule","color":"#000"},"encoding":{"x2":{"field":"x2"}}},
{"data":{"name":"axY"},"mark":{"type":"rule","color":"#000"},"encoding":{"y2":{"field":"y2"}}},
{"data":{"name":"ytk"},"mark":{"type":"point","shape":"stroke","size":25,"color":"#000","filled":false,"opacity":1,"xOffset":-2.5}},
{"data":{"name":"xtA"},"mark":{"type":"point","shape":"stroke","size":25,"color":"#000","filled":false,"opacity":1,"angle":90,"yOffset":2.5}},
{"data":{"name":"ytk"},"mark":{"type":"text","font":"Liberation Sans","fontSize":16,"align":"right","baseline":"middle","dx":-8,"color":"#000"},"encoding":{"text":{"field":"l"}}},
{"data":{"name":"xlA"},"mark":{"type":"text","font":"Liberation Sans","fontSize":16,"align":"center","baseline":"middle","dy":23,"color":"#000"},"encoding":{"text":{"field":"l"}}},
{"data":{"name":"L23"},"transform":[{"window":[{"op":"row_number","as":"i"}]}],"mark":{"type":"line","color":"#000080","strokeWidth":1.5},"encoding":{"order":{"field":"i","type":"quantitative"}}}
]},
{"encoding":{"x":{"field":"x","type":"quantitative","scale":{"domain":[-9.76147,1.22018],"nice":false,"zero":false},"axis":null},"y":{"field":"y","type":"quantitative","scale":{"domain":[-740.226,222.070],"nice":false,"zero":false},"axis":null}},"layer":[
{"data":{"name":"axX"},"mark":{"type":"rule","color":"#000"},"encoding":{"x2":{"field":"x2"}}},
{"data":{"name":"axY"},"mark":{"type":"rule","color":"#000"},"encoding":{"y2":{"field":"y2"}}},
{"data":{"name":"ytk"},"mark":{"type":"point","shape":"stroke","size":25,"color":"#000","filled":false,"opacity":1,"xOffset":-2.5}},
{"data":{"name":"xtA"},"mark":{"type":"point","shape":"stroke","size":25,"color":"#000","filled":false,"opacity":1,"angle":90,"yOffset":2.5}},
{"data":{"name":"ytk"},"mark":{"type":"text","font":"Liberation Sans","fontSize":16,"align":"right","baseline":"middle","dx":-8,"color":"#000"},"encoding":{"text":{"field":"l"}}},
{"data":{"name":"xlA"},"mark":{"type":"text","font":"Liberation Sans","fontSize":16,"align":"center","baseline":"middle","dy":23,"color":"#000"},"encoding":{"text":{"field":"l"}}},
{"data":{"name":"L24"},"transform":[{"window":[{"op":"row_number","as":"i"}]}],"mark":{"type":"line","color":"#000080","strokeWidth":2.5},"encoding":{"order":{"field":"i","type":"quantitative"}}}
]},
{"encoding":{"x":{"field":"x","type":"quantitative","scale":{"domain":[-2.75587,8.48357],"nice":false,"zero":false},"axis":null},"y":{"field":"y","type":"quantitative","scale":{"domain":[-550.105,349.895],"nice":false,"zero":false},"axis":null}},"layer":[
{"data":{"name":"axX"},"mark":{"type":"rule","color":"#000"},"encoding":{"x2":{"field":"x2"}}},
{"data":{"name":"axY"},"mark":{"type":"rule","color":"#000"},"encoding":{"y2":{"field":"y2"}}},
{"data":{"name":"ytk"},"mark":{"type":"point","shape":"stroke","size":25,"color":"#000","filled":false,"opacity":1,"xOffset":-2.5}},
{"data":{"name":"xtC"},"mark":{"type":"point","shape":"stroke","size":25,"color":"#000","filled":false,"opacity":1,"angle":90,"yOffset":2.5}},
{"data":{"name":"ytk"},"mark":{"type":"text","font":"Liberation Sans","fontSize":12,"align":"right","baseline":"middle","dx":-7,"color":"#000"},"encoding":{"text":{"field":"l"}}},
{"data":{"name":"xlC"},"mark":{"type":"text","font":"Liberation Sans","fontSize":12,"align":"center","baseline":"middle","dy":18,"color":"#000"},"encoding":{"text":{"field":"l"}}},
{"data":{"name":"L31"},"transform":[{"window":[{"op":"row_number","as":"i"}]}],"mark":{"type":"line","color":"#000080","strokeWidth":1},"encoding":{"order":{"field":"i","type":"quantitative"}}},
{"data":{"values":[{"x":-0.8967,"y":-41.05,"l":"11-13m"},{"x":-0.8967,"y":-54.32,"l":"depth"}]},"mark":{"type":"text","font":"Liberation Sans","fontSize":14,"fontWeight":"bold","align":"center","baseline":"middle","color":"#000"},"encoding":{"text":{"field":"l"}}},
{"data":{"values":[{"x":-1.6479,"y":35.37,"l":"11-13m"},{"x":-1.6479,"y":12.0,"l":"depth"}]},"mark":{"type":"text","font":"Liberation Sans","fontSize":31,"align":"right","baseline":"middle","color":"#000"},"encoding":{"text":{"field":"l"}}}
]},
{"encoding":{"x":{"field":"x","type":"quantitative","scale":{"domain":[-5.07373,5.95853],"nice":false,"zero":false},"axis":null},"y":{"field":"y","type":"quantitative","scale":{"domain":[-560.645,358.710],"nice":false,"zero":false},"axis":null}},"layer":[
{"data":{"name":"axX"},"mark":{"type":"rule","color":"#000"},"encoding":{"x2":{"field":"x2"}}},
{"data":{"name":"axY"},"mark":{"type":"rule","color":"#000"},"encoding":{"y2":{"field":"y2"}}},
{"data":{"name":"ytk"},"mark":{"type":"point","shape":"stroke","size":25,"color":"#000","filled":false,"opacity":1,"xOffset":-2.5}},
{"data":{"name":"xtA"},"mark":{"type":"point","shape":"stroke","size":25,"color":"#000","filled":false,"opacity":1,"angle":90,"yOffset":2.5}},
{"data":{"name":"ytk"},"mark":{"type":"text","font":"Liberation Sans","fontSize":16,"align":"right","baseline":"middle","dx":-8,"color":"#000"},"encoding":{"text":{"field":"l"}}},
{"data":{"name":"xlA"},"mark":{"type":"text","font":"Liberation Sans","fontSize":16,"align":"center","baseline":"middle","dy":23,"color":"#000"},"encoding":{"text":{"field":"l"}}},
{"data":{"name":"L32"},"transform":[{"window":[{"op":"row_number","as":"i"}]}],"mark":{"type":"line","color":"#000080","strokeWidth":1},"encoding":{"order":{"field":"i","type":"quantitative"}}}
]},
{"encoding":{"x":{"field":"x","type":"quantitative","scale":{"domain":[-7.40367,3.57798],"nice":false,"zero":false},"axis":null},"y":{"field":"y","type":"quantitative","scale":{"domain":[-554.680,354.894],"nice":false,"zero":false},"axis":null}},"layer":[
{"data":{"name":"axX"},"mark":{"type":"rule","color":"#000"},"encoding":{"x2":{"field":"x2"}}},
{"data":{"name":"axY"},"mark":{"type":"rule","color":"#000"},"encoding":{"y2":{"field":"y2"}}},
{"data":{"name":"ytk"},"mark":{"type":"point","shape":"stroke","size":25,"color":"#000","filled":false,"opacity":1,"xOffset":-2.5}},
{"data":{"name":"xtA"},"mark":{"type":"point","shape":"stroke","size":25,"color":"#000","filled":false,"opacity":1,"angle":90,"yOffset":2.5}},
{"data":{"name":"ytk"},"mark":{"type":"text","font":"Liberation Sans","fontSize":16,"align":"right","baseline":"middle","dx":-8,"color":"#000"},"encoding":{"text":{"field":"l"}}},
{"data":{"name":"xlA"},"mark":{"type":"text","font":"Liberation Sans","fontSize":16,"align":"center","baseline":"middle","dy":23,"color":"#000"},"encoding":{"text":{"field":"l"}}},
{"data":{"name":"L33"},"transform":[{"window":[{"op":"row_number","as":"i"}]}],"mark":{"type":"line","color":"#000080","strokeWidth":1.5},"encoding":{"order":{"field":"i","type":"quantitative"}}}
]},
{"encoding":{"x":{"field":"x","type":"quantitative","scale":{"domain":[-9.76147,1.22018],"nice":false,"zero":false},"axis":null},"y":{"field":"y","type":"quantitative","scale":{"domain":[-551.429,353.333],"nice":false,"zero":false},"axis":null}},"layer":[
{"data":{"name":"axX"},"mark":{"type":"rule","color":"#000"},"encoding":{"x2":{"field":"x2"}}},
{"data":{"name":"axY"},"mark":{"type":"rule","color":"#000"},"encoding":{"y2":{"field":"y2"}}},
{"data":{"name":"ytk"},"mark":{"type":"point","shape":"stroke","size":25,"color":"#000","filled":false,"opacity":1,"xOffset":-2.5}},
{"data":{"name":"xtA"},"mark":{"type":"point","shape":"stroke","size":25,"color":"#000","filled":false,"opacity":1,"angle":90,"yOffset":2.5}},
{"data":{"name":"ytk"},"mark":{"type":"text","font":"Liberation Sans","fontSize":16,"align":"right","baseline":"middle","dx":-8,"color":"#000"},"encoding":{"text":{"field":"l"}}},
{"data":{"name":"xlA"},"mark":{"type":"text","font":"Liberation Sans","fontSize":16,"align":"center","baseline":"middle","dy":23,"color":"#000"},"encoding":{"text":{"field":"l"}}},
{"data":{"name":"L34"},"transform":[{"window":[{"op":"row_number","as":"i"}]}],"mark":{"type":"line","color":"#000080","strokeWidth":3},"encoding":{"order":{"field":"i","type":"quantitative"}}}
]},
{"encoding":{"x":{"field":"x","type":"quantitative","scale":{"domain":[-2.75587,8.48357],"nice":false,"zero":false},"axis":null},"y":{"field":"y","type":"quantitative","scale":{"domain":[-402.590,483.420],"nice":false,"zero":false},"axis":null}},"layer":[
{"data":{"name":"axX"},"mark":{"type":"rule","color":"#000"},"encoding":{"x2":{"field":"x2"}}},
{"data":{"name":"axY"},"mark":{"type":"rule","color":"#000"},"encoding":{"y2":{"field":"y2"}}},
{"data":{"name":"ytk"},"mark":{"type":"point","shape":"stroke","size":25,"color":"#000","filled":false,"opacity":1,"xOffset":-2.5}},
{"data":{"name":"xtC"},"mark":{"type":"point","shape":"stroke","size":25,"color":"#000","filled":false,"opacity":1,"angle":90,"yOffset":2.5}},
{"data":{"name":"ytk"},"mark":{"type":"text","font":"Liberation Sans","fontSize":12,"align":"right","baseline":"middle","dx":-7,"color":"#000"},"encoding":{"text":{"field":"l"}}},
{"data":{"name":"xlC"},"mark":{"type":"text","font":"Liberation Sans","fontSize":12,"align":"center","baseline":"middle","dy":18,"color":"#000"},"encoding":{"text":{"field":"l"}}},
{"data":{"name":"L41"},"transform":[{"window":[{"op":"row_number","as":"i"}]}],"mark":{"type":"line","color":"#000080","strokeWidth":1},"encoding":{"order":{"field":"i","type":"quantitative"}}},
{"data":{"values":[{"x":-0.8967,"y":-41.97,"l":"18-20m"},{"x":-0.8967,"y":-55.03,"l":"depth"}]},"mark":{"type":"text","font":"Liberation Sans","fontSize":14,"fontWeight":"bold","align":"center","baseline":"middle","color":"#000"},"encoding":{"text":{"field":"l"}}},
{"data":{"values":[{"x":-1.6103,"y":36.99,"l":"18-20m"},{"x":-1.6103,"y":13.99,"l":"depth"}]},"mark":{"type":"text","font":"Liberation Sans","fontSize":31,"align":"right","baseline":"middle","color":"#000"},"encoding":{"text":{"field":"l"}}}
]},
{"encoding":{"x":{"field":"x","type":"quantitative","scale":{"domain":[-5.07373,5.95853],"nice":false,"zero":false},"axis":null},"y":{"field":"y","type":"quantitative","scale":{"domain":[-408.0,492.0],"nice":false,"zero":false},"axis":null}},"layer":[
{"data":{"name":"axX"},"mark":{"type":"rule","color":"#000"},"encoding":{"x2":{"field":"x2"}}},
{"data":{"name":"axY"},"mark":{"type":"rule","color":"#000"},"encoding":{"y2":{"field":"y2"}}},
{"data":{"name":"ytk"},"mark":{"type":"point","shape":"stroke","size":25,"color":"#000","filled":false,"opacity":1,"xOffset":-2.5}},
{"data":{"name":"xtA"},"mark":{"type":"point","shape":"stroke","size":25,"color":"#000","filled":false,"opacity":1,"angle":90,"yOffset":2.5}},
{"data":{"name":"ytk"},"mark":{"type":"text","font":"Liberation Sans","fontSize":16,"align":"right","baseline":"middle","dx":-8,"color":"#000"},"encoding":{"text":{"field":"l"}}},
{"data":{"name":"xlA"},"mark":{"type":"text","font":"Liberation Sans","fontSize":16,"align":"center","baseline":"middle","dy":23,"color":"#000"},"encoding":{"text":{"field":"l"}}},
{"data":{"name":"L42"},"transform":[{"window":[{"op":"row_number","as":"i"}]}],"mark":{"type":"line","color":"#000080","strokeWidth":1.5},"encoding":{"order":{"field":"i","type":"quantitative"}}}
]},
{"encoding":{"x":{"field":"x","type":"quantitative","scale":{"domain":[-7.40367,3.57798],"nice":false,"zero":false},"axis":null},"y":{"field":"y","type":"quantitative","scale":{"domain":[-405.550,489.738],"nice":false,"zero":false},"axis":null}},"layer":[
{"data":{"name":"axX"},"mark":{"type":"rule","color":"#000"},"encoding":{"x2":{"field":"x2"}}},
{"data":{"name":"axY"},"mark":{"type":"rule","color":"#000"},"encoding":{"y2":{"field":"y2"}}},
{"data":{"name":"ytk"},"mark":{"type":"point","shape":"stroke","size":25,"color":"#000","filled":false,"opacity":1,"xOffset":-2.5}},
{"data":{"name":"xtA"},"mark":{"type":"point","shape":"stroke","size":25,"color":"#000","filled":false,"opacity":1,"angle":90,"yOffset":2.5}},
{"data":{"name":"ytk"},"mark":{"type":"text","font":"Liberation Sans","fontSize":16,"align":"right","baseline":"middle","dx":-8,"color":"#000"},"encoding":{"text":{"field":"l"}}},
{"data":{"name":"xlA"},"mark":{"type":"text","font":"Liberation Sans","fontSize":16,"align":"center","baseline":"middle","dy":23,"color":"#000"},"encoding":{"text":{"field":"l"}}},
{"data":{"name":"L43"},"transform":[{"window":[{"op":"row_number","as":"i"}]}],"mark":{"type":"line","color":"#000080","strokeWidth":1.5},"encoding":{"order":{"field":"i","type":"quantitative"}}}
]},
{"encoding":{"x":{"field":"x","type":"quantitative","scale":{"domain":[-9.76147,1.22018],"nice":false,"zero":false},"axis":null},"y":{"field":"y","type":"quantitative","scale":{"domain":[-403.125,487.5],"nice":false,"zero":false},"axis":null}},"layer":[
{"data":{"name":"axX"},"mark":{"type":"rule","color":"#000"},"encoding":{"x2":{"field":"x2"}}},
{"data":{"name":"axY"},"mark":{"type":"rule","color":"#000"},"encoding":{"y2":{"field":"y2"}}},
{"data":{"name":"ytk"},"mark":{"type":"point","shape":"stroke","size":25,"color":"#000","filled":false,"opacity":1,"xOffset":-2.5}},
{"data":{"name":"xtA"},"mark":{"type":"point","shape":"stroke","size":25,"color":"#000","filled":false,"opacity":1,"angle":90,"yOffset":2.5}},
{"data":{"name":"ytk"},"mark":{"type":"text","font":"Liberation Sans","fontSize":16,"align":"right","baseline":"middle","dx":-8,"color":"#000"},"encoding":{"text":{"field":"l"}}},
{"data":{"name":"xlA"},"mark":{"type":"text","font":"Liberation Sans","fontSize":16,"align":"center","baseline":"middle","dy":23,"color":"#000"},"encoding":{"text":{"field":"l"}}},
{"data":{"name":"L44"},"transform":[{"window":[{"op":"row_number","as":"i"}]}],"mark":{"type":"line","color":"#000080","strokeWidth":2.5},"encoding":{"order":{"field":"i","type":"quantitative"}}}
]},
{"encoding":{"x":{"field":"x","type":"quantitative","scale":{"domain":[-2.72350,8.30876],"nice":false,"zero":false},"axis":null},"y":{"field":"y","type":"quantitative","scale":{"domain":[-260.388,612.061],"nice":false,"zero":false},"axis":null}},"layer":[
{"data":{"name":"axX"},"mark":{"type":"rule","color":"#000"},"encoding":{"x2":{"field":"x2"}}},
{"data":{"name":"axY"},"mark":{"type":"rule","color":"#000"},"encoding":{"y2":{"field":"y2"}}},
{"data":{"name":"ytk"},"mark":{"type":"point","shape":"stroke","size":25,"color":"#000","filled":false,"opacity":1,"xOffset":-2.5}},
{"data":{"name":"xtC"},"mark":{"type":"point","shape":"stroke","size":25,"color":"#000","filled":false,"opacity":1,"angle":90,"yOffset":2.5}},
{"data":{"name":"ytk"},"mark":{"type":"text","font":"Liberation Sans","fontSize":12,"align":"right","baseline":"middle","dx":-7,"color":"#000"},"encoding":{"text":{"field":"l"}}},
{"data":{"name":"xlC"},"mark":{"type":"text","font":"Liberation Sans","fontSize":12,"align":"center","baseline":"middle","dy":18,"color":"#000"},"encoding":{"text":{"field":"l"}}},
{"data":{"name":"L51"},"transform":[{"window":[{"op":"row_number","as":"i"}]}],"mark":{"type":"line","color":"#000080","strokeWidth":1},"encoding":{"order":{"field":"i","type":"quantitative"}}},
{"data":{"values":[{"x":0.7788,"y":-42.43,"l":"22-24m"},{"x":0.7788,"y":-55.29,"l":"depth"}]},"mark":{"type":"text","font":"Liberation Sans","fontSize":14,"fontWeight":"bold","align":"center","baseline":"middle","color":"#000"},"encoding":{"text":{"field":"l"}}},
{"data":{"values":[{"x":-1.4516,"y":47.57,"l":"22-24m"},{"x":-1.4516,"y":24.92,"l":"depth"}]},"mark":{"type":"text","font":"Liberation Sans","fontSize":31,"align":"right","baseline":"middle","color":"#000"},"encoding":{"text":{"field":"l"}}}
]},
{"encoding":{"x":{"field":"x","type":"quantitative","scale":{"domain":[-5.07373,5.95853],"nice":false,"zero":false},"axis":null},"y":{"field":"y","type":"quantitative","scale":{"domain":[-272.149,648.691],"nice":false,"zero":false},"axis":null}},"layer":[
{"data":{"name":"axX"},"mark":{"type":"rule","color":"#000"},"encoding":{"x2":{"field":"x2"}}},
{"data":{"name":"axY"},"mark":{"type":"rule","color":"#000"},"encoding":{"y2":{"field":"y2"}}},
{"data":{"name":"ytk"},"mark":{"type":"point","shape":"stroke","size":25,"color":"#000","filled":false,"opacity":1,"xOffset":-2.5}},
{"data":{"name":"xtA"},"mark":{"type":"point","shape":"stroke","size":25,"color":"#000","filled":false,"opacity":1,"angle":90,"yOffset":2.5}},
{"data":{"name":"ytk"},"mark":{"type":"text","font":"Liberation Sans","fontSize":16,"align":"right","baseline":"middle","dx":-8,"color":"#000"},"encoding":{"text":{"field":"l"}}},
{"data":{"name":"xlA"},"mark":{"type":"text","font":"Liberation Sans","fontSize":16,"align":"center","baseline":"middle","dy":23,"color":"#000"},"encoding":{"text":{"field":"l"}}},
{"data":{"name":"L52"},"transform":[{"window":[{"op":"row_number","as":"i"}]}],"mark":{"type":"line","color":"#000080","strokeWidth":1},"encoding":{"order":{"field":"i","type":"quantitative"}}}
]},
{"encoding":{"x":{"field":"x","type":"quantitative","scale":{"domain":[-7.40367,3.57798],"nice":false,"zero":false},"axis":null},"y":{"field":"y","type":"quantitative","scale":{"domain":[-272.149,648.691],"nice":false,"zero":false},"axis":null}},"layer":[
{"data":{"name":"axX"},"mark":{"type":"rule","color":"#000"},"encoding":{"x2":{"field":"x2"}}},
{"data":{"name":"axY"},"mark":{"type":"rule","color":"#000"},"encoding":{"y2":{"field":"y2"}}},
{"data":{"name":"ytk"},"mark":{"type":"point","shape":"stroke","size":25,"color":"#000","filled":false,"opacity":1,"xOffset":-2.5}},
{"data":{"name":"xtA"},"mark":{"type":"point","shape":"stroke","size":25,"color":"#000","filled":false,"opacity":1,"angle":90,"yOffset":2.5}},
{"data":{"name":"ytk"},"mark":{"type":"text","font":"Liberation Sans","fontSize":16,"align":"right","baseline":"middle","dx":-8,"color":"#000"},"encoding":{"text":{"field":"l"}}},
{"data":{"name":"xlA"},"mark":{"type":"text","font":"Liberation Sans","fontSize":16,"align":"center","baseline":"middle","dy":23,"color":"#000"},"encoding":{"text":{"field":"l"}}},
{"data":{"name":"L53"},"transform":[{"window":[{"op":"row_number","as":"i"}]}],"mark":{"type":"line","color":"#000080","strokeWidth":1},"encoding":{"order":{"field":"i","type":"quantitative"}}}
]},
{"encoding":{"x":{"field":"x","type":"quantitative","scale":{"domain":[-9.60360,1.18018],"nice":false,"zero":false},"axis":null},"y":{"field":"y","type":"quantitative","scale":{"domain":[-265.263,634.737],"nice":false,"zero":false},"axis":null}},"layer":[
{"data":{"name":"axX"},"mark":{"type":"rule","color":"#000"},"encoding":{"x2":{"field":"x2"}}},
{"data":{"name":"axY"},"mark":{"type":"rule","color":"#000"},"encoding":{"y2":{"field":"y2"}}},
{"data":{"name":"ytk"},"mark":{"type":"point","shape":"stroke","size":25,"color":"#000","filled":false,"opacity":1,"xOffset":-2.5}},
{"data":{"name":"xtA"},"mark":{"type":"point","shape":"stroke","size":25,"color":"#000","filled":false,"opacity":1,"angle":90,"yOffset":2.5}},
{"data":{"name":"ytk"},"mark":{"type":"text","font":"Liberation Sans","fontSize":16,"align":"right","baseline":"middle","dx":-8,"color":"#000"},"encoding":{"text":{"field":"l"}}},
{"data":{"name":"xlA"},"mark":{"type":"text","font":"Liberation Sans","fontSize":16,"align":"center","baseline":"middle","dy":23,"color":"#000"},"encoding":{"text":{"field":"l"}}},
{"data":{"name":"L54"},"transform":[{"window":[{"op":"row_number","as":"i"}]}],"mark":{"type":"line","color":"#000080","strokeWidth":2.5},"encoding":{"order":{"field":"i","type":"quantitative"}}}
]},
{"encoding":{"x":{"field":"x","type":"quantitative","scale":{"domain":[-5.1276,65.421],"nice":false,"zero":false},"axis":null},"y":{"field":"y","type":"quantitative","scale":{"domain":[-50.49,1704.43],"nice":false,"zero":false},"axis":null}},"layer":[
{"data":{"name":"ts"},"mark":{"type":"line","color":"#000080","strokeWidth":1.3}},
{"data":{"values":[{"x":39.96,"y":248.8,"l":"Vertical Effective Stress @ 0 m"}]},"mark":{"type":"text","font":"Liberation Sans","fontSize":15,"align":"center","baseline":"middle","color":"#222"},"encoding":{"text":{"field":"l"}}},
{"data":{"name":"strips"},"transform":[{"calculate":"7.5","as":"x"},{"calculate":"10.2","as":"x2"}],"mark":{"type":"rect","color":"#008080"},"encoding":{"x2":{"field":"x2"},"y2":{"field":"y2"}}},
{"data":{"name":"strips"},"transform":[{"calculate":"10.2","as":"x"},{"calculate":"15","as":"x2"}],"mark":{"type":"rect","color":"#33CCCC"},"encoding":{"x2":{"field":"x2"},"y2":{"field":"y2"}}},
{"data":{"name":"strips"},"transform":[{"calculate":"15","as":"x"},{"calculate":"25","as":"x2"}],"mark":{"type":"rect","color":"#FFFF00"},"encoding":{"x2":{"field":"x2"},"y2":{"field":"y2"}}},
{"data":{"name":"strips"},"transform":[{"calculate":"25","as":"x"},{"calculate":"50","as":"x2"}],"mark":{"type":"rect","color":"#00FFFF"},"encoding":{"x2":{"field":"x2"},"y2":{"field":"y2"}}},
{"data":{"values":[{"x":0,"x2":65,"y":0}]},"mark":{"type":"rule","color":"#000"},"encoding":{"x2":{"field":"x2"}}},
{"data":{"values":[{"x":0,"y":0,"y2":250}]},"mark":{"type":"rule","color":"#000"},"encoding":{"y2":{"field":"y2"}}},
{"data":{"name":"byl"},"mark":{"type":"point","shape":"stroke","size":25,"color":"#000","filled":false,"opacity":1,"xOffset":-2.5}},
{"data":{"name":"bxt"},"mark":{"type":"point","shape":"stroke","size":25,"color":"#000","filled":false,"opacity":1,"angle":90,"yOffset":2.5}},
{"data":{"name":"byl"},"mark":{"type":"text","font":"Liberation Sans","fontSize":19,"align":"right","baseline":"middle","dx":-10,"color":"#000"},"encoding":{"text":{"field":"l"}}},
{"data":{"name":"bxl"},"mark":{"type":"text","font":"Liberation Sans","fontSize":19,"align":"center","baseline":"middle","dy":29,"color":"#000"},"encoding":{"text":{"field":"l"}}},
{"data":{"values":[{"x":-2.18,"y":280.8,"l":"(KPa)"}]},"mark":{"type":"text","font":"Liberation Sans","fontSize":18,"align":"center","baseline":"middle","color":"#000"},"encoding":{"text":{"field":"l"}}},
{"data":{"values":[{"x":55.75,"y":0,"l":"time (secs)"}]},"mark":{"type":"text","font":"Liberation Sans Narrow, Liberation Sans","fontSize":19,"align":"center","baseline":"middle","dy":26,"color":"#000"},"encoding":{"text":{"field":"l"}}},
{"data":{"values":[{"x":51.16,"y":247.5,"l":"Vertical effective"},{"x":51.16,"y":202,"l":"stress at base of"},{"x":51.16,"y":156.4,"l":"model"}]},"mark":{"type":"text","font":"Liberation Sans","fontSize":31,"align":"left","baseline":"middle","color":"#000"},"encoding":{"text":{"field":"l"}}},
{"data":{"name":"arrows"},"mark":{"type":"rule","color":"#000","strokeWidth":2},"encoding":{"x2":{"field":"x2"},"y2":{"field":"y2"}}},
{"data":{"name":"heads"},"mark":{"type":"point","shape":"triangle","size":260,"color":"#000","filled":true,"opacity":1},"encoding":{"angle":{"field":"a","type":"quantitative","scale":null}}}
]}
]
}
